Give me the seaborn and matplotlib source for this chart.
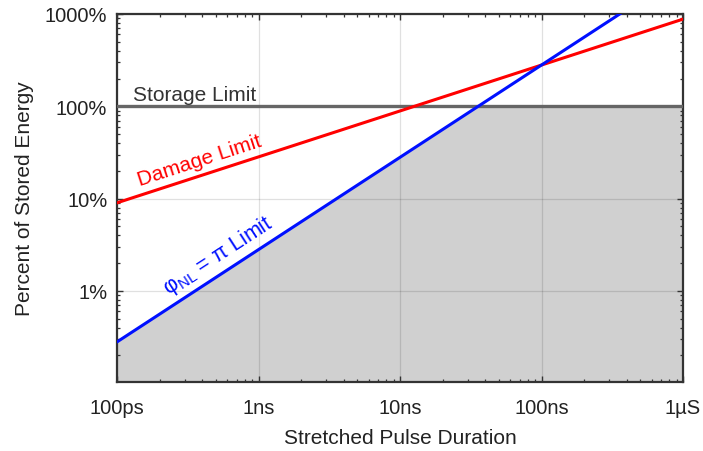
import numpy as np
import pandas as pd
import matplotlib
matplotlib.use("Agg")
import matplotlib.pyplot as plt
import seaborn as sns

# ---- data ----
duration_s = [1e-10, 1e-6]              # stretched pulse duration (s)
damage_pct = [9.0, 880.0]               # damage limit (% of stored energy)
phi_pct = [0.28, 2800.0]                # phi_NL = pi limit (% of stored energy)
storage_pct = 100.0                     # storage limit
fill_t = [1e-10, 3.6e-8, 1e-6]          # boundary of shaded (allowed) region
fill_top = [0.28, 100.0, 100.0]

xticks = [1e-10, 1e-9, 1e-8, 1e-7, 1e-6]
xticklabels = ["100ps", "1ns", "10ns", "100ns", "1µS"]
yticks = [1, 10, 100, 1000]
yticklabels = ["1%", "10%", "100%", "1000%"]

sns.set_theme(style="ticks")
plt.rcParams["font.family"] = ["Liberation Sans", "DejaVu Sans"]
plt.rcParams["mathtext.fontset"] = "custom"
plt.rcParams["mathtext.rm"] = "Liberation Sans"
plt.rcParams["mathtext.it"] = "Liberation Sans:italic"

fig = plt.figure(figsize=(7.03, 4.52), dpi=100)
ax = fig.add_axes([117/703, 1-383/452, (683-117)/703, (383-15)/452])

df = pd.DataFrame({"t": duration_s, "damage": damage_pct, "phi": phi_pct})

ax.fill_between(fill_t, 0.01, fill_top, color="#d0d0d0", lw=0, zorder=1)
ax.axhline(storage_pct, color="#666666", lw=2.4, zorder=3)
sns.lineplot(data=df, x="t", y="damage", color="#ff0000", lw=2.2, ax=ax, zorder=4)
sns.lineplot(data=df, x="t", y="phi", color="#0010ff", lw=2.2, ax=ax, zorder=4)

ax.set_xscale("log")
ax.set_yscale("log")
ax.set_xlim(1e-10, 1e-6)
ax.set_ylim(0.103, 1000)

ax.set_xticks(xticks)
ax.set_xticklabels(xticklabels)
ax.set_yticks(yticks)
ax.set_yticklabels(yticklabels)

ax.set_axisbelow("line")
ax.grid(True, which="major", color="black", alpha=0.12, lw=0.9)

ax.tick_params(which="both", direction="in", top=True, right=True,
               color="#333333", labelcolor="#222222")
ax.tick_params(which="major", length=4.5, width=1.0, labelsize=14.5)
ax.tick_params(axis="x", which="major", pad=11.5)
ax.tick_params(axis="y", which="major", pad=7)
ax.tick_params(which="minor", length=2.5, width=0.9)
for s in ax.spines.values():
    s.set_color("#333333")
    s.set_linewidth(1.6)

ax.set_xlabel("Stretched Pulse Duration", fontsize=15, color="#222222", labelpad=8)
ax.set_ylabel("Percent of Stored Energy", fontsize=15, color="#222222", labelpad=8)

ax.text(1.3e-10, 118, "Storage Limit", fontsize=15, color="#333333",
        ha="left", va="baseline")
ax.text(1.45e-10, 14.0, "Damage Limit", fontsize=15, color="#ff0000",
        rotation=18, rotation_mode="anchor", ha="left", va="baseline")
ax.text(2.3e-10, 0.93, r"φ$_{\mathregular{NL}}$ = π Limit", fontsize=15.5,
        color="#0010ff", rotation=33, rotation_mode="anchor",
        ha="left", va="baseline")

fig.savefig("out.png", dpi=100)
